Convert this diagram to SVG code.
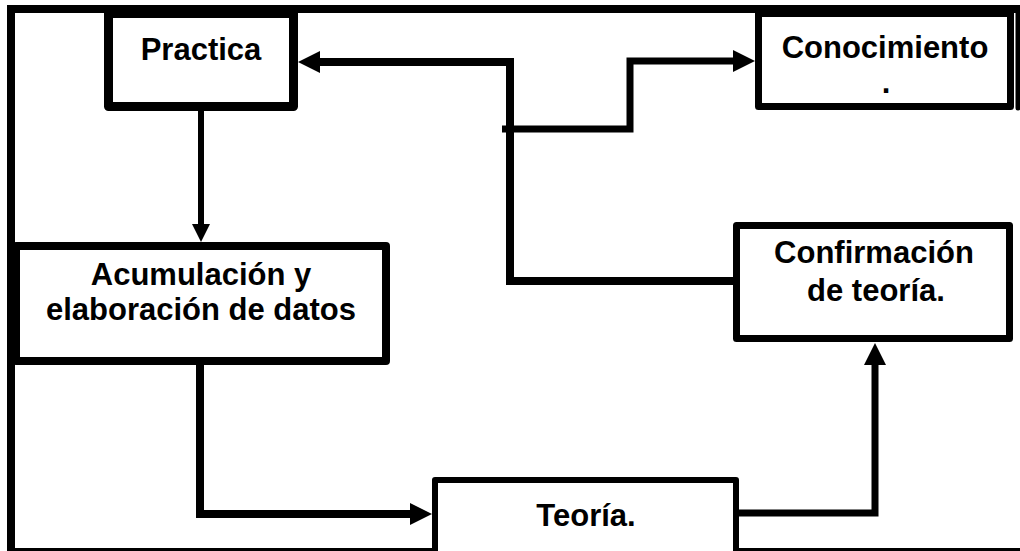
<svg xmlns="http://www.w3.org/2000/svg" width="1020" height="551" viewBox="0 0 1020 551">
  <defs>
    <style>
      .frame { fill: none; stroke: #000; stroke-width: 8; }
      .box { fill: #fff; stroke: #000; stroke-linejoin: round; }
      .label { font-family: "Liberation Sans", Arial, sans-serif; font-weight: bold; font-size: 31px; fill: #000; text-anchor: middle; }
      .link { fill: none; stroke: #000; stroke-linejoin: miter; stroke-linecap: butt; }
    </style>
    <marker id="head" viewBox="0 0 22 22" refX="1" refY="11" markerWidth="22" markerHeight="22" markerUnits="userSpaceOnUse" orient="auto">
      <path d="M0,0 L22,11 L0,22 z" fill="#000"/>
    </marker>
    <marker id="head-small" viewBox="0 0 18 18" refX="1" refY="9" markerWidth="18" markerHeight="18" markerUnits="userSpaceOnUse" orient="auto">
      <path d="M0,0 L18,9 L0,18 z" fill="#000"/>
    </marker>
  </defs>

  <rect width="1020" height="551" fill="#fff"/>

  <!-- outer border -->
  <rect class="frame" x="11" y="9" width="1030" height="543"/>
  <line x1="1018" y1="9" x2="1018" y2="108" stroke="#000" stroke-width="5" stroke-linecap="round"/>

  <!-- connectors -->
  <g id="connectors">
    <!-- Practica -> Acumulacion -->
    <path class="link" d="M201,111 L201,225" stroke-width="6" marker-end="url(#head-small)"/>
    <!-- Acumulacion -> Teoria -->
    <path class="link" d="M200,365 L200,514 L411,514" stroke-width="8" marker-end="url(#head)"/>
    <!-- Teoria -> Confirmacion -->
    <path class="link" d="M739,513 L875,513 L875,364" stroke-width="7" marker-end="url(#head)"/>
    <!-- Confirmacion -> Practica -->
    <path class="link" d="M733,281 L510,281 L510,62 L319,62" stroke-width="8" marker-end="url(#head)"/>
    <!-- branch -> Conocimiento -->
    <path class="link" d="M502,129 L630,129 L630,61 L734,61" stroke-width="7" marker-end="url(#head)"/>
  </g>

  <!-- nodes -->
  <g id="practica">
    <rect class="box" x="108.5" y="13.5" width="185" height="93" stroke-width="9"/>
    <text class="label" x="201" y="60">Practica</text>
  </g>

  <g id="conocimiento">
    <rect class="box" x="758.5" y="13.5" width="252" height="93" stroke-width="7"/>
    <text class="label" x="885" y="58">Conocimiento</text>
    <text class="label" x="886" y="93">.</text>
  </g>

  <g id="acumulacion">
    <rect class="box" x="16" y="246" width="370" height="115" stroke-width="8"/>
    <text class="label" x="201" y="285">Acumulación y</text>
    <text class="label" x="201" y="320">elaboración de datos</text>
  </g>

  <g id="confirmacion">
    <rect class="box" x="736.5" y="225.5" width="273" height="113" stroke-width="7"/>
    <text class="label" x="874" y="263">Confirmación</text>
    <text class="label" x="876" y="301">de teoría.</text>
  </g>

  <g id="teoria">
    <rect class="box" x="435" y="480" width="301" height="80" stroke-width="6"/>
    <text class="label" x="586" y="526">Teoría.</text>
  </g>
</svg>
